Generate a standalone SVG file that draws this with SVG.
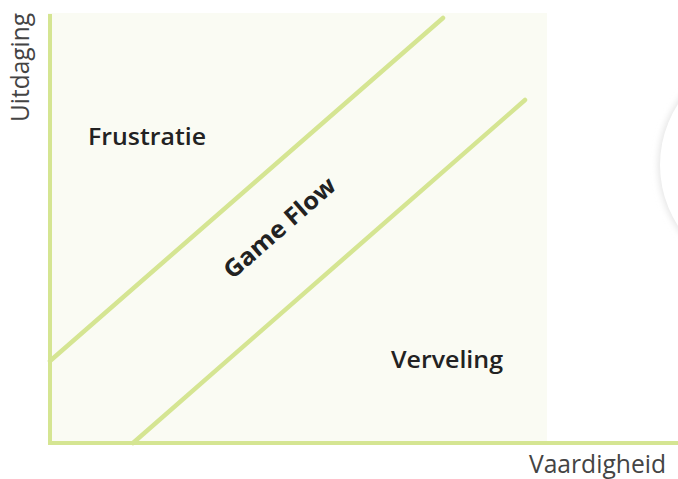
<svg xmlns="http://www.w3.org/2000/svg" width="678" height="479" viewBox="0 0 678 479">
<defs>
<style>
.ax{stroke:#d5e592;stroke-width:4;fill:none}
.ln{stroke:#d5e592;stroke-width:4.5;stroke-linecap:round;fill:none}
.lbl{font-family:"Open Sans","Liberation Sans",sans-serif;font-size:24px;font-weight:600;fill:#222}
.gf{font-weight:700}
.axl{font-family:"Open Sans","Liberation Sans",sans-serif;font-size:25px;fill:#444}
</style>
<filter id="sh" x="-20%" y="-20%" width="140%" height="140%"><feGaussianBlur stdDeviation="3"/></filter>
</defs>
<rect width="678" height="479" fill="#ffffff"/>
<circle cx="772" cy="165" r="114" fill="#e6e6e6" filter="url(#sh)"/>
<circle cx="772" cy="165" r="112" fill="#ffffff"/>
<rect id="area" x="48" y="13" width="499" height="430" fill="#fafbf3"/>
<g id="connectors">
<line class="ax" x1="50" y1="14" x2="50" y2="445"/>
<line class="ax" x1="48" y1="443" x2="678" y2="443"/>
<line class="ln" x1="50" y1="361" x2="443" y2="18"/>
<line class="ln" x1="133" y1="443" x2="525" y2="100"/>
</g>
<g id="frustratie"><text class="lbl" x="88" y="145" textLength="118" lengthAdjust="spacingAndGlyphs">Frustratie</text></g>
<g id="verveling"><text class="lbl" x="391" y="368" textLength="112" lengthAdjust="spacingAndGlyphs">Verveling</text></g>
<g id="gameflow"><text class="lbl gf" x="-70" y="0" textLength="140" lengthAdjust="spacingAndGlyphs" transform="translate(285,234) rotate(-41.1)">Game Flow</text></g>
<g id="uitdaging"><text class="axl" x="-122" y="0" textLength="109" lengthAdjust="spacingAndGlyphs" transform="translate(29,0) rotate(-90)">Uitdaging</text></g>
<g id="vaardigheid"><text class="axl" x="529" y="473" textLength="137" lengthAdjust="spacingAndGlyphs">Vaardigheid</text></g>
</svg>
